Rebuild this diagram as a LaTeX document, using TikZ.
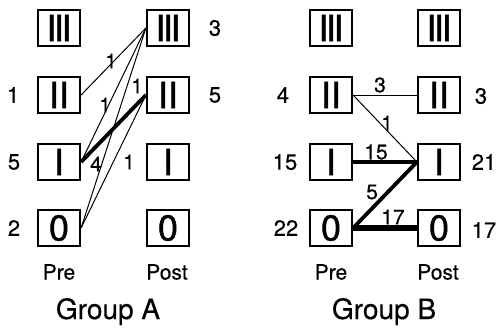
\documentclass[tikz,border=0pt]{standalone}
\usepackage{fontspec}
\setmainfont{TeX Gyre Heros}
\newfontfamily\boxfont[FakeBold=1.2]{TeX Gyre Heros}
\newfontfamily\labfont[FakeBold=0.4]{TeX Gyre Heros}
\begin{document}
\begin{tikzpicture}[x=1pt,y=-1pt,
  box/.style={draw,line width=2.2pt,minimum width=42pt,minimum height=36pt,inner sep=0pt,font=\boxfont\fontsize{36}{36}\selectfont},
  num/.style={inner sep=0pt,font=\labfont\fontsize{22}{22}\selectfont},
  elab/.style={inner sep=0pt,font=\labfont\fontsize{21}{21}\selectfont},
  axis/.style={inner sep=0pt,font=\labfont\fontsize{21}{21}\selectfont},
  grp/.style={inner sep=0pt,font=\labfont\fontsize{28}{28}\selectfont},
  thin/.style={line width=1pt},
  heavy/.style={line width=3.8pt},
  heavier/.style={line width=5.2pt}]
\useasboundingbox (0,0) rectangle (497,327);
\newcommand{\tri}{I\kern-2.4pt I\kern-2.4pt I}
% Group A
\node[box] (a3) at (59,28) {\tri};
\node[box] (a2) at (59,95) {II};
\node[box] (a1) at (59,162) {I};
\node[box] (a0) at (59,228) {0};
\node[box] (b3) at (168,28) {\tri};
\node[box] (b2) at (168,95) {II};
\node[box] (b1) at (168,162) {I};
\node[box] (b0) at (168,228) {0};
\draw[thin] (a2.east) -- (b3.west);
\draw[thin] (a1.east) -- (b3.west);
\draw[thin] (a0.east) -- (b3.west);
\draw[thin] (a0.east) -- (b2.west);
\draw[heavy] (a1.east) -- (b2.west);
\node[elab] (la1) at (111,61) {1};
\node[elab] (la2) at (105,105) {1};
\node[elab] (la3) at (137,86) {1};
\node[elab] (la4) at (96,164) {4};
\node[elab] (la5) at (129,162) {1};
\node[num] (na2) at (13,95) {1};
\node[num] (na1) at (14,162) {5};
\node[num] (na0) at (14,228) {2};
\node[num] (nb3) at (215,28) {3};
\node[num] (nb2) at (215,95) {5};
\node[axis] (preA) at (59,272) {Pre};
\node[axis] (postA) at (167,272) {Post};
\node[grp,text height=20pt,text depth=0pt] (gA) at (108,309) {Group A};
% Group B
\node[box] (c3) at (331,28) {\tri};
\node[box] (c2) at (331,95) {II};
\node[box] (c1) at (331,162) {I};
\node[box] (c0) at (331,228) {0};
\node[box] (d3) at (439,28) {\tri};
\node[box] (d2) at (439,95) {II};
\node[box] (d1) at (439,162) {I};
\node[box] (d0) at (439,228) {0};
\draw[thin] (c2.east) -- (d2.west);
\draw[thin] (c2.east) -- (d1.west);
\draw[heavy] (c1.east) -- (d1.west);
\draw[heavy] (c0.east) -- (d1.west);
\draw[heavier] (c0.east) -- (d0.west);
\node[elab] (lb1) at (380,85) {3};
\node[elab] (lb2) at (387,123) {1};
\node[elab] (lb3) at (376,152) {15};
\node[elab] (lb4) at (372,192) {5};
\node[elab] (lb5) at (393,217) {17};
\node[num] (nc2) at (283,95) {4};
\node[num] (nc1) at (285,162) {15};
\node[num] (nc0) at (286,228) {22};
\node[num] (nd2) at (481,96) {3};
\node[num] (nd1) at (484,162) {21};
\node[num] (nd0) at (484,230) {17};
\node[axis] (preB) at (331,272) {Pre};
\node[axis] (postB) at (438,272) {Post};
\node[grp,text height=20pt,text depth=0pt] (gB) at (384,309) {Group B};
\end{tikzpicture}
\end{document}
